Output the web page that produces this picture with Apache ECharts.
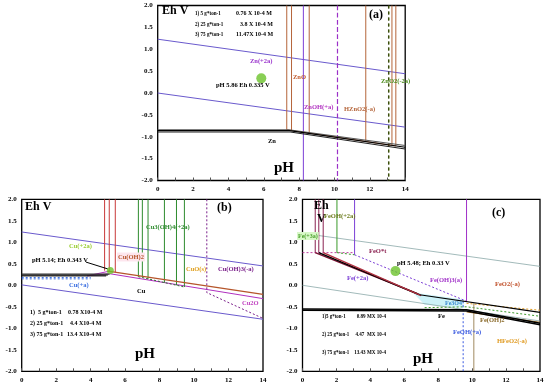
<!DOCTYPE html>
<html><head><meta charset="utf-8">
<script src="https://cdn.jsdelivr.net/npm/echarts@6/dist/echarts.min.js"></script>
<style>html,body{margin:0;padding:0;background:#fff}#c{width:550px;height:389px}</style>
</head><body><div id="c"></div>
<script>
// ---------- shared ----------
const waterPH = [0, 14];
// ---------- panel (a) Zn ----------
const znWaterUpperEh = [1.23, 0.44];
const znWaterLowerEh = [0.00, -0.78];
const znMetalBreakPH = [7.40, 7.45, 7.50];
const znMetalLevelEh = [-0.84, -0.86, -0.89];
const znMetalEndEh = [-1.20, -1.24, -1.28];
const znBrownPH = [7.30, 7.57, 8.57, 11.77, 13.25, 13.47];
const znBrownBottomEh = [-0.84, -0.87, -0.93, -1.10, -1.19, -1.21];
const znPurplePH = [8.24];
const znPurpleDashPH = [10.17];
const znGreenDashPH = [13.06];
const znPoint = [5.86, 0.335];
// ---------- panel (b) Cu ----------
const cuWaterUpperEh = [1.24, 0.45];
const cuWaterLowerEh = [0.01, -0.79];
const cuMetalEh = [0.22, 0.24, 0.26];
const cuMetalBreakPH = [4.9, 5.0, 5.1];
const cuPlusEh = [0.15, 0.18];
const cuPlusEndPH = [4.0, 4.0];
const cuBrownSlopePH = [5.0, 14];
const cuBrownSlopeEh = [0.33, -0.21];
const cuMagentaPH = [3.8, 5.1, 14];
const cuMagentaEh = [0.22, 0.27, -0.31];
const cuMagentaUpperPH = [3.8, 5.1];
const cuMagentaUpperEh = [0.22, 0.33];
const cuRedPH = [4.81, 5.08, 5.43];
const cuRedBottomEh = [0.34, 0.32, 0.30];
const cuGreenPH = [6.77, 7.00, 7.33, 8.28, 8.98, 9.44];
const cuGreenBottomEh = [0.20, 0.18, 0.15, 0.06, 0.00, -0.04];
const cuPurpleDashPH = [10.74, 10.74, 14];
const cuPurpleDashEh = [2.0, -0.17, -0.77];
const cuArrowPH = [3.73, 5.0];
const cuArrowEh = [0.54, 0.38];
const cuPoint = [5.14, 0.343];
// ---------- panel (c) Fe ----------
const feWaterUpperEh = [1.21, 0.44];
const feWaterLowerEh = [0.00, -0.83];
const feMaroonPH = [0.75, 0.96, 1.22];
const feMaroonBottomEh = [0.76, 0.76, 0.76];
const feSlopeEndPH = [6.80, 6.90, 7.00];
const feSlopeEndEh = [-0.20, -0.22, -0.24];
const feGreenVertPH = [2.03];
const fePurpleVertPH = [3.07];
const feFe3DashPH = [0, 3.07];
const feFe3DashEh = [0.76, 0.76];
const feUpperBlackPH = [6.9, 14];
const feUpperBlackEh = [-0.22, -0.63];
const fePurpleDashPH = [3.07, 9.67];
const fePurpleDashEh = [0.71, -0.37];
const fePurpleLongPH = [9.67];
const feMetalEh = [-0.55, -0.58];
const feMetalBreakPH = [9.67, 9.67];
const feMetalEndEh = [-0.88, -0.92];
const feOrangeDashPH = [9.67, 14];
const feOrangeDashEh = [-0.42, -0.58];
const feGreenDashPH = [7.2, 9.67, 14];
const feGreenDashEh = [-0.52, -0.50, -0.72];
const feBlueDashPH = [9.47];
const feBlueDashTopEh = [-0.37];
const feTanPH = [10.1];
const feTanTopEh = [-0.42];
const feMagnetitePH = [6.5, 9.5, 9.5, 7.2];
const feMagnetiteEh = [-0.17, -0.33, -0.52, -0.45];
const fePoint = [5.48, 0.33];

// ---------- build ----------
const FONT = '"Liberation Serif","Times New Roman",serif';
const chart = echarts.init(document.getElementById('c'), null, {renderer:'canvas'});
const grids = [
  {left:157.7, top:5.5, width:247.5, height:175},
  {left:21.7, top:199.3, width:241.3, height:172},
  {left:302.5, top:199.3, width:237.5, height:172}
].map(g => Object.assign({show:true, borderColor:'#000', borderWidth:1.3, backgroundColor:'transparent'}, g));

function xAx(i){return {gridIndex:i,type:'value',min:0,max:14,interval:2,
  axisLine:{show:false,onZero:false}, splitLine:{show:false},
  axisTick:{show:true,inside:true,length:3,lineStyle:{color:'#555'}},
  minorTick:{show:true,splitNumber:2,length:3,lineStyle:{color:'#555'}},
  axisLabel:{fontSize:7,fontWeight:'bold',fontFamily:FONT,color:'#000',margin:5}};}
function yAx(i){return {gridIndex:i,type:'value',min:-2,max:2,interval:0.5,
  axisLine:{show:false,onZero:false}, splitLine:{show:false},
  axisTick:{show:false},
  axisLabel:{fontSize:7,fontWeight:'bold',fontFamily:FONT,color:'#000',margin:5,formatter:v=>v.toFixed(1)}};}

const series = [];
function line(g, xs, ys, color, width, dash, z){
  series.push({type:'line', xAxisIndex:g, yAxisIndex:g, data: xs.map((x,i)=>[x, ys[i]]),
    symbol:'none', silent:true, animation:false, z: z||2,
    lineStyle:{color, width: width||1, type: dash||'solid'}});
}
function vline(g, x, top, bottom, color, width, dash){ line(g, [x,x], [top,bottom], color, width, dash); }

// shaded magnetite band (panel c)
series.push({type:'custom', xAxisIndex:2, yAxisIndex:2, silent:true, animation:false, z:1,
  data: feMagnetitePH.map((x,i)=>[x, feMagnetiteEh[i]]),
  renderItem: (params, api) => {
    if (params.dataIndex !== 0) return null;
    const pts = feMagnetitePH.map((x,i)=>api.coord([x, feMagnetiteEh[i]]));
    return {type:'polygon', shape:{points:pts}, style:{fill:'#cdf2f8'}};
  }});

// panel a
line(0, waterPH, znWaterUpperEh, '#6a5acd', 1);
line(0, waterPH, znWaterLowerEh, '#6a5acd', 1);
const znCols = ['#555','#000','#222'];
znMetalBreakPH.forEach((b,i)=>{
  line(0, [0, b, 14], [znMetalLevelEh[i], znMetalLevelEh[i], znMetalEndEh[i]], znCols[i], 1.1, 'solid', 4);
});
line(0, [znBrownPH[0], znBrownPH[5]], [znBrownBottomEh[0], znBrownBottomEh[5]], '#b5653a', 1, 'solid', 3);
znBrownPH.forEach((x,i)=> vline(0, x, 2, znBrownBottomEh[i], '#b5653a', 1));
znPurplePH.forEach(x=> vline(0, x, 2, -2, '#7b3fd6', 1));
znPurpleDashPH.forEach(x=> vline(0, x, 2, -2, '#9b30c8', 1.2, 'dashed'));
znGreenDashPH.forEach(x=>{ vline(0, x, 2, -2, '#000', 1.2, [3,3]); vline(0, x+0.02, 2, -2, '#6a8a1a', 1, [3,3]); });

// panel b
line(1, waterPH, cuWaterUpperEh, '#6a5acd', 1);
line(1, waterPH, cuWaterLowerEh, '#6a5acd', 1);
cuMetalEh.forEach((e,i)=> line(1, [0, cuMetalBreakPH[i]], [e, e], i===1?'#000':'#333', 1.2, 'solid', 4));
cuPlusEh.forEach((e,i)=> line(1, [0, cuPlusEndPH[i]], [e, e], '#3a6ee0', 1, [2,2]));
line(1, cuMagentaPH, cuMagentaEh, '#b030c0', 1);
line(1, cuMagentaUpperPH, cuMagentaUpperEh, '#b030c0', 1);
line(1, cuBrownSlopePH, cuBrownSlopeEh, '#b5552a', 1.2, 'solid', 3);
cuRedPH.forEach((x,i)=> vline(1, x, 2, cuRedBottomEh[i], '#c83a3a', 1));
cuGreenPH.forEach((x,i)=> vline(1, x, 2, cuGreenBottomEh[i], '#2e8b2e', 1));
line(1, [cuGreenPH[0], cuGreenPH[5]], [cuGreenBottomEh[0], cuGreenBottomEh[5]], '#2e6b2e', 1, [2,2]);
line(1, cuPurpleDashPH, cuPurpleDashEh, '#7a1f8a', 1, [2,2]);
line(1, cuArrowPH, cuArrowEh, '#000', 1, 'solid', 5);

// panel c
line(2, waterPH, feWaterUpperEh, '#8aa8a8', 0.8);
line(2, waterPH, feWaterLowerEh, '#8aa8a8', 0.8);
const feCols = ['#7a1030','#000','#b03040'];
feMaroonPH.forEach((x,i)=>{
  vline(2, x, 2, feMaroonBottomEh[i], '#8a2050', 1);
  line(2, [x, feSlopeEndPH[i]], [feMaroonBottomEh[i], feSlopeEndEh[i]], feCols[i], 1.4, 'solid', 4);
});
feGreenVertPH.forEach(x=> vline(2, x, 2, 0.76, '#3a9a2a', 1));
fePurpleVertPH.forEach(x=> vline(2, x, 2, 0.71, '#7b3fd6', 1));
line(2, feFe3DashPH, feFe3DashEh, '#c040a0', 1, [2,2]);
line(2, [feGreenVertPH[0], fePurpleVertPH[0]], [0.76, 0.71], '#3a9a2a', 1, [2,2]);
line(2, feUpperBlackPH, feUpperBlackEh, '#000', 1.2, 'solid', 4);
line(2, fePurpleDashPH, fePurpleDashEh, '#7b3fd6', 1, [2,2]);
fePurpleLongPH.forEach(x=> vline(2, x, 2, -0.37, '#a030c8', 1));
feMetalEh.forEach((e,i)=> line(2, [0, feMetalBreakPH[i], 14], [e, e - 0.02, feMetalEndEh[i]], '#000', 1.5, 'solid', 4));
line(2, [9.67, 14], [-0.62, -0.86], '#a0702a', 1, 'solid', 3);
line(2, feOrangeDashPH, feOrangeDashEh, '#e09a20', 1, [2,2]);
line(2, feGreenDashPH, feGreenDashEh, '#3a9a2a', 1, [2,2]);
feBlueDashPH.forEach((x,i)=> vline(2, x, feBlueDashTopEh[i], -2, '#3a5ae0', 1, [2,2]));
feTanPH.forEach((x,i)=> vline(2, x, feTanTopEh[i], -2, '#a08a60', 1));

// points
[[0, znPoint, 10], [1, cuPoint, 7], [2, fePoint, 10]].forEach(([g, p, s])=>{
  series.push({type:'scatter', xAxisIndex:g, yAxisIndex:g, data:[p], symbolSize:s, z:6, silent:true, animation:false,
    itemStyle:{color:'#6cc32a'}});
});

// ---------- text ----------
const texts = [];
function T(x, y, text, color, size, weight, align, bg, sx){
  const st = {text, fill: color||'#000',
    font: (weight||'bold') + ' ' + (size||7) + 'px ' + FONT, textAlign: align||'left', textVerticalAlign:'middle'};
  if (bg) { st.backgroundColor = bg; st.padding = [1,1]; }
  const el = {type:'text', x, y, z:100, silent:true, style: st};
  if (sx) el.scaleX = sx;
  texts.push(el);
}
// a
T(162, 11, 'Eh V', '#000', 12);
T(195, 13.3, '1) 5 g*ton-1', '#000', 6, 'bold', 'left', null, 0.85);
T(195, 24.3, '2) 25 g*ton-1', '#000', 6, 'bold', 'left', null, 0.85);
T(195, 34.7, '3) 75 g*ton-1', '#000', 6, 'bold', 'left', null, 0.85);
T(236, 13.3, '0.76 X 10-4 M', '#000', 6);
T(240, 24.3, '3.8 X 10-4 M', '#000', 6);
T(236, 34.7, '11.47X 10-4 M', '#000', 6);
T(369, 15, '(a)', '#000', 12);
T(250, 61, 'Zn(+2a)', '#9932cc', 6.5);
T(216, 85.5, 'pH 5.86 Eh 0.335 V', '#000', 6.5);
T(293, 77, 'ZnO', '#c0582a', 6.5);
T(381, 81, 'ZnO2(-2a)', '#4a8a1a', 6.5);
T(304, 107, 'ZnOH(+a)', '#b030c0', 6.5);
T(344, 109, 'HZnO2(-a)', '#b5653a', 6.5);
T(268, 141, 'Zn', '#000', 6.5);
T(274, 168, 'pH', '#000', 15);
// b
T(25, 207, 'Eh V', '#000', 12);
T(217, 208, '(b)', '#000', 12);
T(146, 227, 'Cu3(OH)4(+2a)', '#2e8b2e', 6.5);
T(69, 246, 'Cu(+2a)', '#9acd32', 6.5);
T(117, 257, 'Cu(OH)2', '#b5552a', 6.5, 'bold', 'left', '#fde6ee');
T(32, 260, 'pH 5.14; Eh 0.343 V', '#000', 6.5);
T(186, 269, 'CuO(s)', '#e0a020', 6.5);
T(218, 269, 'Cu(OH)3(-a)', '#7a1f8a', 6.5);
T(69, 285, 'Cu(+a)', '#3a6ee0', 6.5);
T(137, 291, 'Cu', '#000', 6.5);
T(242, 303, 'Cu2O', '#c040c0', 6.5);
T(135, 354, 'pH', '#000', 15);
T(30, 312, '1)  5 g*ton-1', '#000', 6);
T(30, 323.3, '2) 25 g*ton-1', '#000', 6);
T(30, 334, '3) 75 g*ton-1', '#000', 6);
T(68, 312, '0.78 X10-4 M', '#000', 6);
T(70, 323.3, '4.4 X10-4 M', '#000', 6);
T(67, 334, '13.4 X10-4 M', '#000', 6);
// c
T(314, 206, 'Eh', '#000', 12);
T(317, 219, 'V', '#000', 12);
T(492, 213, '(c)', '#000', 12);
T(297, 236, 'Fe(+3a)', '#4aa02a', 6, 'bold', 'left', '#d8f8c8');
T(324, 216, 'FeOH(+2a)', '#6a7a1a', 6.5);
T(369, 251, 'FeO*t', '#8a2050', 6.5);
T(397, 263, 'pH 5.48; Eh 0.33 V', '#000', 6.5);
T(347, 278, 'Fe(+2a)', '#7b3fd6', 6.5);
T(430, 280, 'Fe(OH)3(a)', '#a030c8', 6.5);
T(495, 284, 'FeO2(-a)', '#c0502a', 6.5);
T(445, 303, 'Fe3O4', '#3a8ad0', 6);
T(438, 316, 'Fe', '#000', 6.5);
T(480, 320, 'Fe(OH)2', '#8a6a2a', 6.5);
T(453, 332, 'FeOH(+a)', '#3a5ae0', 6.5);
T(497, 341, 'HFeO2(-a)', '#e09a20', 6.5);
T(413, 359, 'pH', '#000', 15);
T(322, 316, '1)5 g*ton-1', '#000', 6, 'bold', 'left', null, 0.82);
T(322, 334, '2) 25 g*ton-1', '#000', 6, 'bold', 'left', null, 0.82);
T(322, 352.7, '3) 75 g*ton-1', '#000', 6, 'bold', 'left', null, 0.82);
T(386, 316, '0.89 MX 10-4', '#000', 6, 'bold', 'right', null, 0.85);
T(386, 334, '4.47  MX 10-4', '#000', 6, 'bold', 'right', null, 0.85);
T(386, 352.7, '13.43 MX 10-4', '#000', 6, 'bold', 'right', null, 0.85);

chart.setOption({
  animation:false,
  backgroundColor:'#fff',
  grid: grids,
  xAxis: [xAx(0), xAx(1), xAx(2)],
  yAxis: [yAx(0), yAx(1), yAx(2)],
  series,
  graphic: texts
});
</script></body></html>
